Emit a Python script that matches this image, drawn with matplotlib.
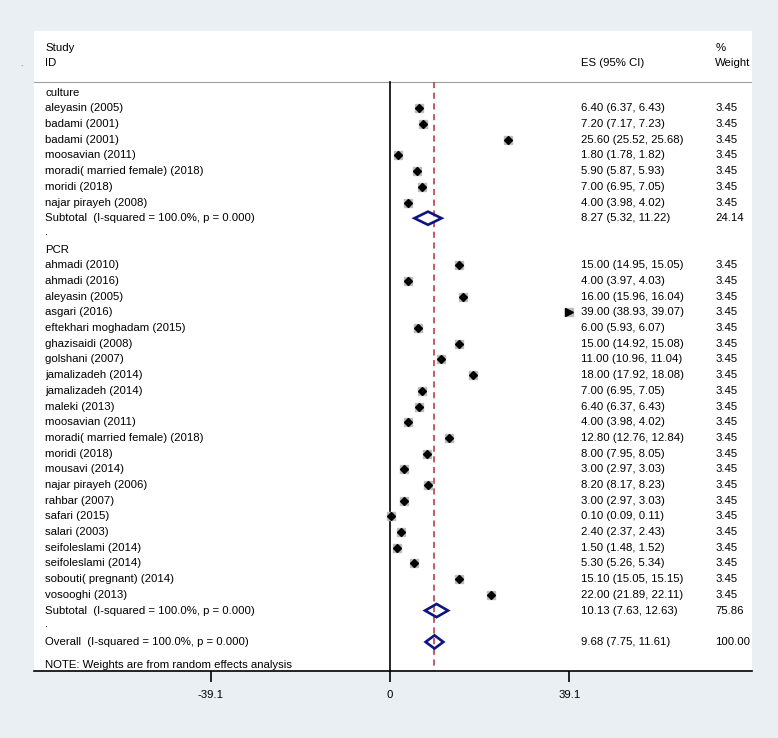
import matplotlib.pyplot as plt
from matplotlib.patches import Polygon

plt.rcParams['font.family'] = ['Liberation Sans', 'DejaVu Sans']

# culture subgroup
culture_names = ['aleyasin (2005)', 'badami (2001)', 'badami (2001)', 'moosavian (2011)',
                 'moradi( married female) (2018)', 'moridi (2018)', 'najar pirayeh (2008)']
culture_es = [6.40, 7.20, 25.60, 1.80, 5.90, 7.00, 4.00]
culture_lo = [6.37, 7.17, 25.52, 1.78, 5.87, 6.95, 3.98]
culture_hi = [6.43, 7.23, 25.68, 1.82, 5.93, 7.05, 4.02]

# PCR subgroup
pcr_names = ['ahmadi (2010)', 'ahmadi (2016)', 'aleyasin (2005)', 'asgari (2016)',
             'eftekhari moghadam (2015)', 'ghazisaidi (2008)', 'golshani (2007)',
             'jamalizadeh (2014)', 'jamalizadeh (2014)', 'maleki (2013)', 'moosavian (2011)',
             'moradi( married female) (2018)', 'moridi (2018)', 'mousavi (2014)',
             'najar pirayeh (2006)', 'rahbar (2007)', 'safari (2015)', 'salari (2003)',
             'seifoleslami (2014)', 'seifoleslami (2014)', 'sobouti( pregnant) (2014)',
             'vosooghi (2013)']
pcr_es = [15.00, 4.00, 16.00, 39.00, 6.00, 15.00, 11.00, 18.00, 7.00, 6.40, 4.00,
          12.80, 8.00, 3.00, 8.20, 3.00, 0.10, 2.40, 1.50, 5.30, 15.10, 22.00]
pcr_lo = [14.95, 3.97, 15.96, 38.93, 5.93, 14.92, 10.96, 17.92, 6.95, 6.37, 3.98,
          12.76, 7.95, 2.97, 8.17, 2.97, 0.09, 2.37, 1.48, 5.26, 15.05, 21.89]
pcr_hi = [15.05, 4.03, 16.04, 39.07, 6.07, 15.08, 11.04, 18.08, 7.05, 6.43, 4.02,
          12.84, 8.05, 3.03, 8.23, 3.03, 0.11, 2.43, 1.52, 5.34, 15.15, 22.11]
study_weight = 3.45

# pooled estimates: es, lo, hi, weight
sub_culture = (8.27, 5.32, 11.22, 24.14)
sub_pcr = (10.13, 7.63, 12.63, 75.86)
overall = (9.68, 7.75, 11.61, 100.00)
het_text = '(I-squared = 100.0%, p = 0.000)'

xticks = [-39.1, 0, 39.1]

fig = plt.figure(figsize=(7.78, 7.38), dpi=100, facecolor='#e9eff3')
ax = fig.add_axes([0.0437, 0.0908, 0.923, 0.867])
ax.set_facecolor('white')
ax.set_xlim(-77.6, 78.9)
y_bot = 36.85
ax.set_ylim(y_bot, -3.92)

x_lab = -75.2
x_es = 41.6
x_w = 70.9
fs = 8.2
navy = '#0d1580'
hdr_y = -0.67


def ci_text(es, lo, hi):
    return f'{es:.2f} ({lo:.2f}, {hi:.2f})'


def study_row(y, name, es, lo, hi):
    ax.text(x_lab, y, name, va='center', fontsize=fs)
    ax.text(x_es, y, ci_text(es, lo, hi), va='center', fontsize=fs)
    ax.text(x_w, y, f'{study_weight:.2f}', va='center', fontsize=fs)
    ax.plot(es, y, marker='s', ms=6.4, color='#bdbdbd', mec='#bdbdbd', zorder=3)
    if es >= 0.99 * xticks[-1]:
        ax.plot(es, y, marker='>', ms=6, color='black', zorder=4)
    else:
        ax.plot([lo, hi], [y, y], color='black', lw=0.8, zorder=4)
        ax.plot(es, y, marker='D', ms=4.2, color='black', zorder=4)


def pooled_row(y, label, vals):
    es, lo, hi, w = vals
    ax.text(x_lab, y, label, va='center', fontsize=fs)
    ax.text(x_es, y, ci_text(es, lo, hi), va='center', fontsize=fs)
    ax.text(x_w, y, f'{w:.2f}', va='center', fontsize=fs)
    h = 0.42
    d = Polygon([[lo, y], [es, y - h], [hi, y], [es, y + h]], closed=True,
                fill=False, ec=navy, lw=1.9, zorder=5)
    ax.add_patch(d)


# header
ax.text(x_lab, -2.83, 'Study', va='center', fontsize=fs)
ax.text(x_lab, -1.88, 'ID', va='center', fontsize=fs)
ax.text(x_es, -1.88, 'ES (95% CI)', va='center', fontsize=fs)
ax.text(x_w, -2.83, '%', va='center', fontsize=fs)
ax.text(x_w, -1.88, 'Weight', va='center', fontsize=fs)
ax.axhline(hdr_y, color='#a0a0a0', lw=0.8)

row = 0
ax.text(x_lab, row, 'culture', va='center', fontsize=fs)
row += 1
for n, e, l, h in zip(culture_names, culture_es, culture_lo, culture_hi):
    study_row(row, n, e, l, h)
    row += 1
pooled_row(row, 'Subtotal  ' + het_text, sub_culture)
row += 1
ax.text(x_lab, row - 0.15, '.', va='center', fontsize=fs)
row += 1
ax.text(x_lab, row, 'PCR', va='center', fontsize=fs)
row += 1
for n, e, l, h in zip(pcr_names, pcr_es, pcr_lo, pcr_hi):
    study_row(row, n, e, l, h)
    row += 1
pooled_row(row, 'Subtotal  ' + het_text, sub_pcr)
row += 1
ax.text(x_lab, row - 0.15, '.', va='center', fontsize=fs)
row += 1
pooled_row(row, 'Overall  ' + het_text, overall)
ax.text(x_lab, row + 1.45, 'NOTE: Weights are from random effects analysis', va='center', fontsize=fs)

# null line and overall line
ax.plot([0, 0], [hdr_y, y_bot], color='black', lw=1.2, zorder=2)
ax.plot([overall[0], overall[0]], [hdr_y, y_bot], color='#b0303a', lw=1.1,
        ls=(0, (4, 3)), zorder=2)

for s in ['top', 'left', 'right']:
    ax.spines[s].set_visible(False)
ax.spines['bottom'].set_linewidth(1.2)
ax.set_yticks([])
ax.set_xticks(xticks)
ax.set_xticklabels([str(t) if t != 0 else '0' for t in xticks], fontsize=fs)
ax.tick_params(axis='x', direction='out', length=8, width=1.2, pad=6)

fig.text(20 / 778, 1 - 66 / 738, '.', fontsize=6, color='#555555')

fig.savefig('out.png', dpi=100, facecolor=fig.get_facecolor())
